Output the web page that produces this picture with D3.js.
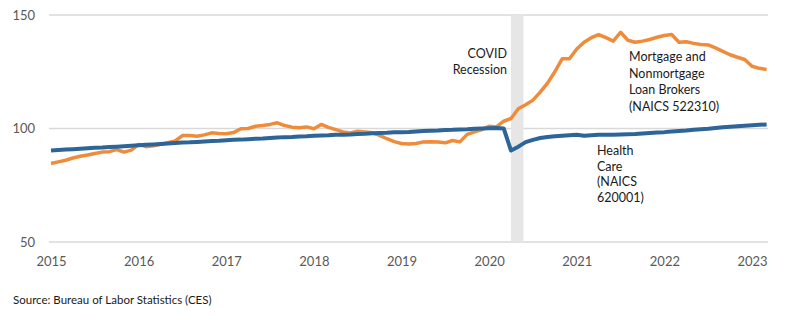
<!DOCTYPE html>
<html>
<head>
<meta charset="utf-8">
<script src="https://cdn.jsdelivr.net/npm/d3@7"></script>
<style>
  html, body { margin: 0; padding: 0; background: #fff; }
  svg { display: block; font-family: Lato, "Open Sans", sans-serif; }
</style>
</head>
<body>
<div id="chart"></div>
<script>
// monthly index, Jan 2015 .. Mar 2023
const startYear = 2015;
const yearTicks = [2015, 2016, 2017, 2018, 2019, 2020, 2021, 2022, 2023];
const yTicks = [50, 100, 150];

const mortgageBrokers = [
  84.6, 85.3, 86.0, 87.0, 87.8, 88.3, 89.0, 89.6, 89.8, 90.7, 89.6, 90.5,
  93.0, 92.0, 92.4, 93.0, 93.7, 94.5, 96.9, 96.9, 96.6, 97.2, 98.1, 97.8,
  97.7, 98.2, 99.9, 100.0, 101.0, 101.3, 101.8, 102.5, 101.3, 100.6, 100.3, 100.7,
  99.9, 101.8, 100.5, 99.5, 98.5, 98.0, 98.8, 98.5, 98.1, 97.0, 95.5, 94.2,
  93.4, 93.2, 93.4, 94.1, 94.2, 94.1, 93.7, 94.7, 94.1, 97.4, 98.5, 99.5,
  101.0, 100.7, 103.2, 104.4, 108.7, 110.5, 112.5, 116.0, 120.0, 125.0, 130.7, 130.7,
  135.0, 138.0, 140.0, 141.4, 140.0, 138.5, 142.4, 138.9, 138.0, 138.5, 139.2, 140.2,
  141.0, 141.4, 138.0, 138.2, 137.5, 137.0, 136.8, 135.5, 134.0, 132.5, 131.4, 130.4,
  127.4, 126.5, 126.0
];

const healthCare = [
  90.3, 90.5, 90.7, 90.9, 91.1, 91.3, 91.5, 91.6, 91.8, 92.0, 92.2, 92.4,
  92.6, 92.8, 93.0, 93.2, 93.4, 93.6, 93.8, 93.9, 94.1, 94.3, 94.5, 94.6,
  94.8, 95.0, 95.1, 95.3, 95.5, 95.6, 95.8, 96.0, 96.2, 96.3, 96.5, 96.6,
  96.8, 96.9, 97.0, 97.2, 97.3, 97.4, 97.6, 97.7, 97.9, 98.0, 98.1, 98.3,
  98.4, 98.5, 98.7, 98.9, 99.0, 99.1, 99.3, 99.4, 99.6, 99.7, 99.9, 100.0,
  100.1, 100.2, 100.0, 90.3, 92.0, 94.0, 95.0, 95.8, 96.3, 96.6, 96.8, 97.0,
  97.2, 96.8, 97.0, 97.2, 97.2, 97.3, 97.4, 97.5, 97.6, 97.8, 98.0, 98.2,
  98.4, 98.7, 98.9, 99.1, 99.4, 99.7, 99.9, 100.2, 100.5, 100.8, 101.0, 101.2,
  101.4, 101.6, 101.8
];

// recession band in month index (Apr 2020 .. late May 2020)
const recession = [63, 64.7];

const mortgageLabel = ["Mortgage and", "Nonmortgage", "Loan Brokers", "(NAICS 522310)"];
const healthLabel = ["Health", "Care", "(NAICS", "620001)"];
const recessionLabel = ["COVID", "Recession"];
const sourceText = "Source: Bureau of Labor Statistics (CES)";

const width = 800, height = 322;
const margin = {top: 15, right: 32, bottom: 80, left: 51};

const svg = d3.select("#chart").append("svg")
  .attr("width", width)
  .attr("height", height);

const x = d3.scaleLinear()
  .domain([0, 96])
  .range([margin.left, 752]);

const y = d3.scaleLinear()
  .domain([50, 150])
  .range([242, margin.top]);

// gridlines
svg.append("g")
  .selectAll("line")
  .data(yTicks)
  .join("line")
    .attr("x1", 49)
    .attr("x2", 768)
    .attr("y1", d => y(d))
    .attr("y2", d => y(d))
    .attr("stroke", "#d9d9d9")
    .attr("stroke-width", 1.5);

// recession shading
svg.append("rect")
  .attr("x", x(recession[0]))
  .attr("width", x(recession[1]) - x(recession[0]))
  .attr("y", y(150))
  .attr("height", y(50) - y(150))
  .attr("fill", "#e6e6e6");

// y axis labels
const yAxis = d3.axisLeft(y).tickValues(yTicks).tickSize(0).tickPadding(0);
svg.append("g")
  .attr("transform", "translate(35,0)")
  .call(yAxis)
  .call(g => g.select(".domain").remove())
  .call(g => g.selectAll("text")
    .attr("fill", "#595959")
    .style("font-size", "13px")
    .style("font-family", "Lato, sans-serif"));

// x axis labels
const xAxis = d3.axisBottom(x)
  .tickValues(yearTicks.map(yr => (yr - startYear) * 12))
  .tickFormat((d, i) => yearTicks[i])
  .tickSize(0).tickPadding(0);
svg.append("g")
  .attr("transform", "translate(0,257)")
  .call(xAxis)
  .call(g => g.select(".domain").remove())
  .call(g => g.selectAll("text")
    .attr("fill", "#595959")
    .style("font-size", "13px")
    .style("font-family", "Lato, sans-serif"));

const line = d3.line()
  .x((d, i) => x(i))
  .y(d => y(d));

svg.append("path")
  .datum(mortgageBrokers)
  .attr("d", line)
  .attr("fill", "none")
  .attr("stroke", "#ef8c3b")
  .attr("stroke-width", 3.5)
  .attr("stroke-linejoin", "round");

svg.append("path")
  .datum(healthCare)
  .attr("d", line)
  .attr("fill", "none")
  .attr("stroke", "#2d6598")
  .attr("stroke-width", 4)
  .attr("stroke-linejoin", "round");

function addLabel(lines, x0, y0, step, anchor)
{
  svg.append("text")
    .attr("x", x0)
    .attr("y", y0)
    .attr("text-anchor", anchor)
    .attr("fill", "#1a1a1a")
    .style("font-size", "12.5px")
    .selectAll("tspan")
    .data(lines)
    .join("tspan")
      .attr("x", x0)
      .attr("dy", (d, i) => i ? step : 0)
      .text(d => d);
}

addLabel(recessionLabel, 507, 58, 15.5, "end");
addLabel(mortgageLabel, 629, 61, 16.5, "start");
addLabel(healthLabel, 597, 155, 15.5, "start");

svg.append("text")
  .attr("x", 13)
  .attr("y", 304)
  .attr("fill", "#1a1a1a")
  .style("font-size", "11.5px")
  .text(sourceText);
</script>
</body>
</html>
